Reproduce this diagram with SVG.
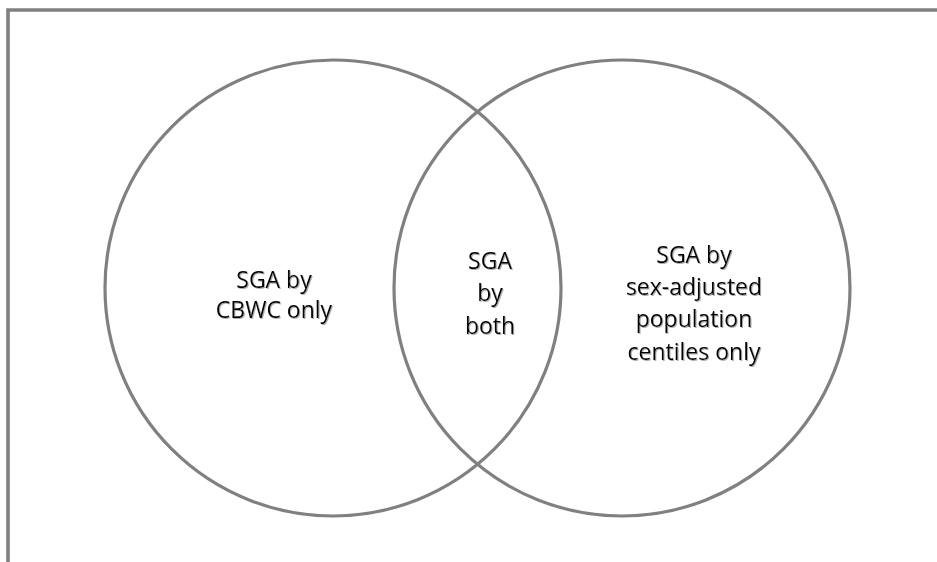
<svg xmlns="http://www.w3.org/2000/svg" width="937" height="562" viewBox="0 0 937 562">
  <defs>
    <style>
      .frame { fill: none; stroke: #808080; stroke-width: 3.6; }
      .set { fill: none; stroke: #808080; stroke-width: 3.2; }
      .label { font-family: "Open Sans", "Liberation Sans", sans-serif; font-size: 23px; fill: #000; text-anchor: middle; filter: url(#soft); }
    </style>
    <filter id="soft" x="-10%" y="-10%" width="120%" height="130%">
      <feDropShadow dx="1" dy="1" stdDeviation="0.4" flood-color="#9a9a9a" flood-opacity="0.8"/>
    </filter>
  </defs>
  <rect width="937" height="562" fill="#fff"/>
  <!-- open frame: top and left edges -->
  <path class="frame" d="M8 562 V10 H937"/>

  <g id="set-cbwc">
    <circle class="set" cx="333" cy="288" r="228"/>
    <text class="label"><tspan x="274" y="288">SGA by</tspan><tspan x="274" y="318">CBWC only</tspan></text>
  </g>

  <g id="set-population">
    <circle class="set" cx="622" cy="288" r="228"/>
    <text class="label"><tspan x="694" y="263">SGA by</tspan><tspan x="694" y="295">sex-adjusted</tspan><tspan x="694" y="327">population</tspan><tspan x="694" y="360">centiles only</tspan></text>
  </g>

  <g id="overlap">
    <text class="label"><tspan x="490" y="269">SGA</tspan><tspan x="490" y="301">by</tspan><tspan x="490" y="334">both</tspan></text>
  </g>
</svg>
